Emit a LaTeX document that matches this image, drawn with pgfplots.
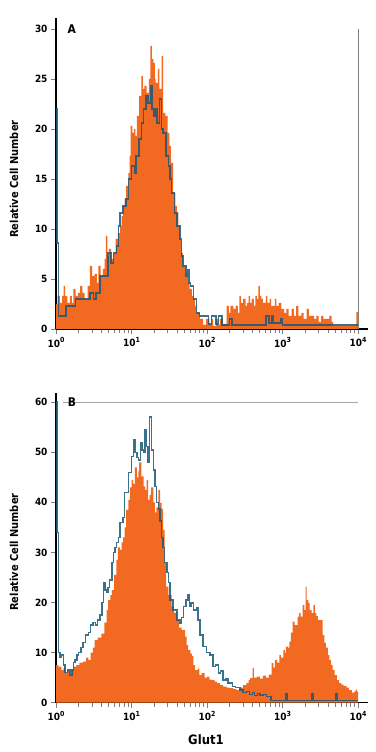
\documentclass[border=0pt]{standalone}
\usepackage{pgfplots}
\pgfplotsset{compat=1.18}
\usepackage{fontspec}
\setmainfont{DejaVu Sans Condensed}
\definecolor{forange}{HTML}{F26A21}
\definecolor{fblue}{HTML}{1A5878}
\pgfplotsset{
  facs/.style={
    scale only axis, width=312bp,
    xmin=0, xmax=4.1325,
    axis x line*=bottom, axis y line*=left,
    axis line style={black, line width=1.3pt},
    xtick={0,1,2,3,4},
    xticklabels={10\raisebox{0.8ex}{\scriptsize 0},10\raisebox{0.8ex}{\scriptsize 1},10\raisebox{0.8ex}{\scriptsize 2},10\raisebox{0.8ex}{\scriptsize 3},10\raisebox{0.8ex}{\scriptsize 4}},
    minor xtick={0.301,0.477,0.602,0.699,0.778,0.845,0.903,0.954,1.301,1.477,1.602,1.699,1.778,1.845,1.903,1.954,2.301,2.477,2.602,2.699,2.778,2.845,2.903,2.954,3.301,3.477,3.602,3.699,3.778,3.845,3.903,3.954},
    tick align=outside,
    major tick length=5bp, minor tick length=4bp,
    every tick/.style={gray, line width=0.8pt},
    ticklabel style={font=\bfseries\fontsize{10}{12}\selectfont},
    /pgf/number format/assume math mode=true,
    clip=false,
  },
  orangefill/.style={const plot, fill=forange, draw=none},
  blueline/.style={const plot, draw=fblue, line width=1.5pt, opacity=0.85, line join=miter},
}
\begin{document}
\begin{tikzpicture}[x=1bp,y=1bp]
\path[use as bounding box] (0,0) rectangle (375,752);
% ---------------- Panel A ----------------
\begin{axis}[facs, at={(56bp,423bp)}, anchor=south west, height=311bp,
  ymin=0, ymax=31.1, ytick={0,5,10,15,20,25,30}]
\addplot[orangefill] coordinates {
(0.00,2.5)(0.02,3.3)(0.05,2.6)(0.08,3.3)(0.10,4.3)(0.12,3.3)(0.15,2.6)(0.185,3.3)(0.21,2.6)(0.23,4.0)(0.26,3.3)
(0.29,3.6)(0.32,4.3)(0.35,3.6)(0.38,3.0)(0.42,4.3)(0.45,6.3)(0.48,5.3)(0.51,5.5)(0.54,4.6)(0.56,6.3)(0.59,5.3)
(0.62,6.0)(0.645,7.0)(0.66,9.3)(0.68,7.3)(0.70,8.0)(0.73,7.0)(0.76,7.5)(0.79,9.0)(0.82,9.6)(0.85,10.3)(0.87,11.3)
(0.89,12.3)(0.91,13.0)(0.93,14.3)(0.96,15.6)(0.975,17.3)(0.99,20.3)(1.01,19.6)(1.03,20.0)(1.05,19.3)(1.07,21.3)
(1.10,23.3)(1.13,25.3)(1.15,24.0)(1.17,24.3)(1.20,23.6)(1.23,25.0)(1.25,28.3)(1.27,27.0)(1.29,26.6)(1.31,25.0)
(1.32,24.6)(1.35,26.0)(1.37,24.0)(1.40,27.3)(1.42,21.6)(1.45,21.3)(1.48,19.6)(1.50,18.3)(1.52,16.6)(1.55,13.6)
(1.58,12.3)(1.60,11.6)(1.62,10.3)(1.64,9.0)(1.66,7.6)(1.68,6.3)(1.71,5.6)(1.73,5.3)(1.75,4.6)(1.77,4.0)(1.80,3.3)
(1.82,3.0)(1.84,2.3)(1.86,1.6)(1.905,1.0)(1.95,0.4)(1.99,1.0)(2.03,0.4)(2.06,1.0)(2.08,0.3)(2.12,1.0)(2.15,0.4)
(2.17,1.0)(2.21,0.5)(2.26,2.3)(2.29,1.6)(2.31,2.3)(2.35,2.0)(2.38,2.3)(2.41,1.6)(2.43,3.3)(2.45,2.6)(2.48,3.0)
(2.51,2.3)(2.53,2.6)(2.55,3.3)(2.57,2.6)(2.59,3.0)(2.62,2.3)(2.64,3.3)(2.66,3.0)(2.68,4.3)(2.70,3.3)(2.72,3.0)
(2.74,2.6)(2.78,3.3)(2.80,2.6)(2.83,3.0)(2.85,2.3)(2.90,3.0)(2.92,2.3)(2.95,2.6)(2.985,2.0)(3.02,1.6)(3.05,2.0)
(3.08,1.3)(3.12,2.0)(3.15,1.3)(3.18,2.3)(3.21,1.3)(3.25,1.6)(3.28,1.0)(3.32,2.0)(3.35,1.3)(3.42,1.0)(3.45,1.3)
(3.48,0.7)(3.51,1.3)(3.54,1.0)(3.62,1.3)(3.65,0.7)(3.67,0.3)(3.98,1.7)(4.0,0)
} \closedcycle;
\addplot[blueline] coordinates {
(0.00,22)(0.012,8.6)(0.03,1.3)(0.10,1.3)(0.13,2.3)(0.22,2.3)(0.26,3.0)(0.40,3.0)(0.45,3.6)(0.50,3.0)(0.53,3.6)
(0.58,5.3)(0.65,5.3)(0.69,7.6)(0.73,6.6)(0.76,7.6)(0.80,8.3)(0.83,10.3)(0.85,11.6)(0.89,12.3)(0.93,13.0)(0.96,15.0)
(1.00,16.3)(1.04,15.6)(1.06,17.3)(1.10,19.0)(1.13,20.6)(1.16,22.0)(1.19,23.3)(1.22,22.6)(1.25,24.3)(1.27,22.0)
(1.29,21.3)(1.31,22.0)(1.34,20.6)(1.37,23.0)(1.40,20.0)(1.42,19.6)(1.46,17.3)(1.49,16.3)(1.51,15.0)(1.53,13.6)
(1.57,11.6)(1.60,10.3)(1.64,9.0)(1.66,7.3)(1.68,6.3)(1.72,5.3)(1.74,5.9)(1.76,4.6)(1.78,4.3)(1.82,3.0)(1.86,1.6)
(1.90,1.3)(1.98,1.3)(2.02,0.5)(2.06,1.3)(2.12,0.5)(2.15,1.3)(2.20,0.4)(2.28,0.4)(2.30,1.0)(2.33,0.4)(2.75,0.4)
(2.78,1.3)(2.82,0.6)(2.86,1.3)(2.88,0.6)(2.98,1.0)(3.00,0.4)(4.0,0.4)
};
\draw[gray, line width=0.8pt] (axis cs:4,0) -- (axis cs:4,30);
\node[font=\bfseries\fontsize{12}{14}\selectfont] at (axis cs:0.21,30) {A};
\end{axis}
% ---------------- Panel B ----------------
\begin{axis}[facs, at={(56bp,49.3bp)}, anchor=south west, height=310bp,
  ymin=0, ymax=61.9, ytick={0,10,20,30,40,50,60}]
\addplot[orangefill] coordinates {
(0.00,7.5)(0.03,7.2)(0.07,6.5)(0.10,7.0)(0.12,5.9)(0.15,6.5)(0.18,5.5)(0.21,6.5)(0.23,7.2)(0.27,7.5)(0.31,8.0)
(0.36,8.2)(0.40,9.0)(0.43,8.5)(0.46,10.0)(0.49,11.0)(0.51,12.5)(0.55,13.0)(0.60,13.8)(0.64,16.0)(0.67,18.5)
(0.69,20.5)(0.72,21.5)(0.74,22.5)(0.77,25.5)(0.80,28.5)(0.82,31)(0.85,30.5)(0.87,32)(0.89,33)(0.91,35)(0.93,38.5)
(0.96,40.5)(0.98,43)(1.00,44.5)(1.02,43.7)(1.045,47)(1.07,45)(1.09,46.2)(1.10,48)(1.13,45.2)(1.16,43.2)(1.18,42.5)
(1.20,44.5)(1.22,40.5)(1.24,41.5)(1.26,43)(1.29,40)(1.31,38)(1.33,39)(1.355,42.5)(1.38,39.9)(1.40,38.7)(1.42,34.5)
(1.44,27.9)(1.46,23.2)(1.49,21.5)(1.53,19.2)(1.56,18.0)(1.60,16.5)(1.63,15.0)(1.665,14.5)(1.71,13.2)(1.73,11.5)
(1.75,10.5)(1.78,9.8)(1.80,9.3)(1.82,7.5)(1.84,6.5)(1.88,6.8)(1.90,5.5)(1.93,5.9)(1.97,5.0)(2.00,5.2)(2.03,4.6)
(2.06,4.5)(2.10,4.2)(2.13,3.9)(2.17,3.5)(2.215,3.2)(2.26,3.0)(2.30,2.9)(2.35,2.7)(2.39,2.5)(2.43,3.0)(2.48,3.5)
(2.52,3.9)(2.55,4.5)(2.57,4.9)(2.605,6.9)(2.62,5.0)(2.66,5.2)(2.70,4.8)(2.74,5.4)(2.78,5.0)(2.82,5.6)(2.857,7.9)
(2.88,7.0)(2.90,8.5)(2.93,8.0)(2.958,9.5)(2.98,9.0)(3.01,10.5)(3.03,10.0)(3.046,11.2)(3.07,11.0)(3.09,12.2)
(3.11,14.0)(3.135,16.2)(3.16,15.5)(3.20,17.2)(3.22,17.9)(3.24,17.2)(3.267,19.5)(3.29,18.5)(3.307,23.2)(3.32,20.5)
(3.342,19.9)(3.36,18.5)(3.387,17.9)(3.408,19.5)(3.43,17.9)(3.45,17.3)(3.47,16.5)(3.53,13.5)(3.555,12.0)(3.576,11.0)
(3.60,9.5)(3.62,8.5)(3.645,7.5)(3.665,6.5)(3.69,5.5)(3.72,4.5)(3.75,3.9)(3.78,3.6)(3.81,3.3)(3.85,3.0)(3.88,2.5)
(3.92,2.0)(3.95,2.2)(3.97,2.6)(3.99,2.2)(4.0,0)
} \closedcycle;
\addplot[blueline] coordinates {
(0.00,60)(0.012,34)(0.03,10)(0.05,9)(0.075,9.5)(0.10,7.5)(0.12,6)(0.15,6.5)(0.185,5.5)(0.21,6.5)(0.23,8)(0.25,8.5)
(0.28,9.5)(0.30,10)(0.33,11)(0.36,12)(0.39,13.5)(0.43,14)(0.46,15.5)(0.49,16)(0.52,15.5)(0.55,16.5)(0.58,17.5)
(0.61,20)(0.63,24)(0.65,22.5)(0.67,22)(0.69,23)(0.71,24.5)(0.74,28)(0.76,30)(0.78,31)(0.80,32)(0.825,33)(0.85,36)
(0.89,37)(0.91,42)(0.96,46)(1.00,49.2)(1.025,52.5)(1.046,50)(1.07,49)(1.09,48.5)(1.12,51.9)(1.14,50.5)(1.157,50)
(1.18,54.5)(1.20,51.2)(1.22,48)(1.236,57)(1.267,50.5)(1.29,46.5)(1.31,43.2)(1.33,40)(1.355,38.7)(1.38,36.3)
(1.40,33)(1.42,31)(1.44,28)(1.47,26)(1.49,24)(1.51,20.5)(1.55,18.5)(1.60,16.5)(1.64,15.9)(1.665,17)(1.686,19.2)
(1.72,20.5)(1.75,21.5)(1.77,19.2)(1.79,19.9)(1.82,18.5)(1.86,18.9)(1.88,16.5)(1.91,13.5)(1.95,11.2)(1.995,10)
(2.04,9.5)(2.08,7.2)(2.11,7.5)(2.15,5.9)(2.18,6.3)(2.215,4.5)(2.25,4.8)(2.28,3.9)(2.34,3.2)(2.38,3.0)(2.44,2.5)
(2.48,2.0)(2.52,2.2)(2.56,1.6)(2.60,2.0)(2.63,1.4)(2.67,1.8)(2.70,1.4)(2.74,1.6)(2.79,1.2)(2.85,0.4)(3.04,1.8)
(3.06,0.4)(3.39,1.8)(3.41,0.4)(3.70,1.8)(3.72,0.4)(4.0,0.4)
};
\draw[gray!70, line width=0.8pt] (axis cs:0.09,60) -- (axis cs:4,60);
\node[font=\bfseries\fontsize{12}{14}\selectfont] at (axis cs:0.21,60) {B};
\end{axis}
\node[rotate=90, font=\bfseries\fontsize{11}{13}\selectfont] at (14,573) {Relative Cell Number};
\node[rotate=90, font=\bfseries\fontsize{11}{13}\selectfont] at (14,200) {Relative Cell Number};
\node[font=\bfseries\fontsize{13}{15}\selectfont] at (206,12) {Glut1};
\end{tikzpicture}
\end{document}
